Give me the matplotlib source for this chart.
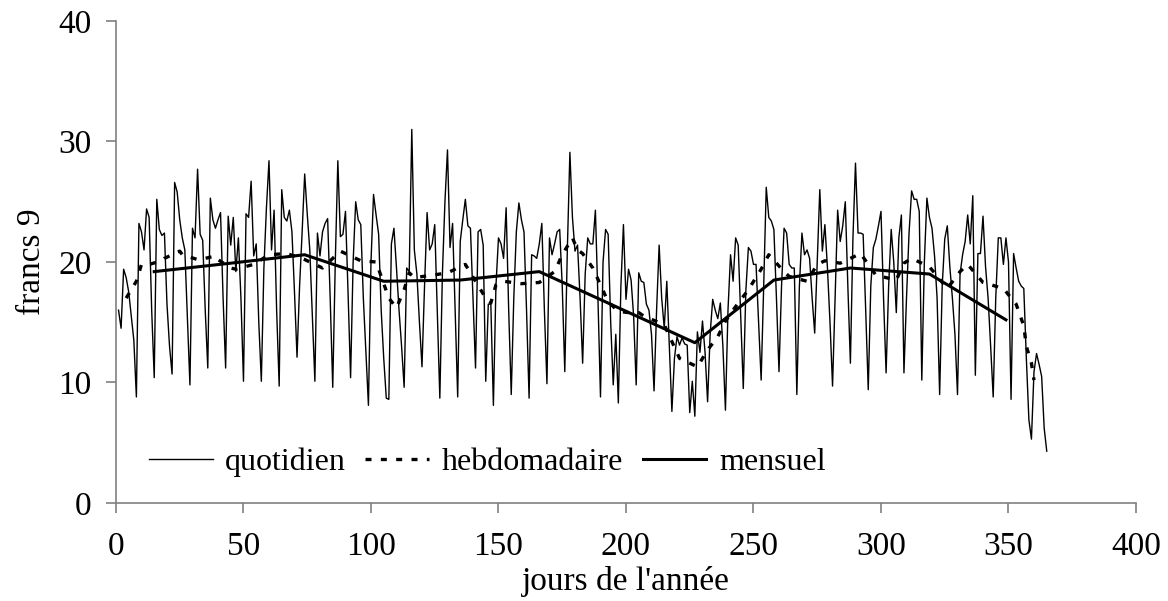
import matplotlib
matplotlib.use("Agg")
import matplotlib.pyplot as plt
import numpy as np

# Daily values, one row per week (days 1 to 365)
dailyValues = [
    16.0, 14.5, 19.4, 18.7, 17.5, 15.5, 13.5,
    8.8, 23.2, 22.5, 21.0, 24.4, 23.7, 16.0,
    10.4, 25.2, 22.7, 22.2, 22.4, 16.5, 13.0,
    10.7, 26.6, 25.8, 23.5, 22.0, 21.0, 15.5,
    9.8, 22.8, 22.0, 27.7, 22.3, 21.8, 16.0,
    11.2, 25.3, 23.5, 22.8, 23.5, 24.1, 17.0,
    11.2, 23.8, 21.4, 23.7, 19.2, 22.0, 17.0,
    10.1, 24.0, 23.7, 26.7, 20.5, 21.5, 15.0,
    10.1, 19.5, 24.5, 28.4, 21.0, 24.3, 16.0,
    9.7, 26.0, 23.7, 23.4, 24.3, 22.5, 17.5,
    12.1, 18.0, 22.5, 27.3, 24.0, 21.0, 15.5,
    10.1, 22.4, 20.5, 22.5, 23.2, 23.6, 17.0,
    9.6, 20.0, 28.4, 22.1, 22.3, 24.2, 17.5,
    10.4, 20.0, 25.0, 23.5, 23.1, 17.0, 12.5,
    8.1, 20.0, 25.6, 23.9, 22.3, 16.0, 12.0,
    8.7, 8.6, 21.5, 22.8, 19.5, 16.0, 13.0,
    9.6, 19.5, 19.2, 31.0, 21.0, 19.0, 15.0,
    11.3, 18.0, 24.1, 21.0, 21.5, 23.1, 16.0,
    8.7, 19.0, 25.0, 29.3, 21.2, 23.2, 16.0,
    8.8, 21.7, 23.5, 25.2, 23.0, 22.8, 17.0,
    11.2, 22.5, 22.7, 21.4, 10.1, 16.5, 16.5,
    8.1, 18.0, 22.0, 21.5, 20.3, 24.5, 16.0,
    9.0, 17.0, 22.5, 24.9, 23.5, 22.5, 16.0,
    8.7, 20.6, 20.5, 20.3, 21.5, 23.2, 16.0,
    9.9, 22.0, 20.6, 21.5, 22.5, 22.7, 18.0,
    10.9, 21.0, 29.1, 23.7, 20.9, 21.4, 17.0,
    11.6, 19.0, 22.0, 21.5, 21.5, 24.3, 17.0,
    8.8, 20.0, 22.7, 22.3, 15.0, 9.8, 14.0,
    8.3, 18.0, 23.1, 16.9, 19.4, 18.5, 15.5,
    9.8, 19.1, 18.4, 18.3, 16.5, 16.0, 14.0,
    9.3, 16.0, 21.4, 17.0, 14.5, 18.4, 13.0,
    7.6, 12.0, 13.8, 13.1, 13.7, 13.2, 13.1,
    7.5, 10.1, 7.2, 14.2, 12.5, 15.1, 12.5,
    8.4, 14.0, 16.9, 16.0, 15.3, 16.6, 13.0,
    7.7, 16.0, 20.6, 18.4, 22.0, 21.4, 15.5,
    9.5, 17.6, 21.2, 20.9, 19.8, 19.8, 15.0,
    10.2, 18.0, 26.2, 23.7, 23.4, 22.7, 17.0,
    10.9, 18.0, 22.8, 22.4, 19.8, 19.5, 19.5,
    9.0, 18.0, 22.4, 20.6, 21.0, 20.3, 17.0,
    14.1, 20.0, 26.0, 20.9, 23.1, 19.5, 15.0,
    9.7, 17.0, 24.3, 21.7, 23.0, 25.0, 18.0,
    11.6, 22.0, 28.2, 22.4, 22.4, 22.3, 16.0,
    9.4, 18.0, 21.2, 21.9, 23.0, 24.2, 17.0,
    10.8, 18.0, 22.7, 20.0, 15.8, 22.0, 23.9,
    10.8, 17.0, 22.4, 25.9, 25.2, 25.2, 24.2,
    10.2, 20.0, 25.3, 23.7, 22.8, 20.5, 17.0,
    9.0, 18.0, 21.9, 23.0, 19.6, 17.0, 14.0,
    9.0, 19.0, 20.6, 21.7, 23.9, 21.5, 25.5,
    10.6, 20.7, 20.7, 23.8, 19.6, 17.0, 13.0,
    8.8, 17.0, 22.0, 22.0, 19.8, 22.0, 20.0,
    8.6, 20.7, 19.5, 18.4, 18.0, 17.8, 12.0,
    6.9, 5.3, 10.9, 12.4, 11.5, 10.5, 6.2,
    4.3,
]
dailyDays = np.arange(1, len(dailyValues) + 1)

# Weekly curve
weeklyDays = [4, 8, 10, 13, 18, 19, 25, 26, 32, 33, 39, 40, 45, 47, 54, 60,
              67, 74, 81, 88, 96, 102, 107, 110, 113, 115, 117, 124, 130, 137,
              141, 145, 147, 149, 152, 159, 166, 172, 175, 179, 181, 183, 187,
              190, 193, 197, 201, 205, 207, 215, 218, 221, 223, 228, 232, 236,
              239, 243, 248, 253, 256, 262, 264, 271, 275, 278, 284, 292, 298,
              306, 309, 312, 319, 326, 331, 334, 340, 348, 353, 356, 357, 359, 360]
weeklyValues = [17.0, 18.4, 19.8, 19.8, 20.1, 20.3, 20.9, 20.6, 20.2, 20.2,
                20.5, 20.2, 19.5, 19.4, 19.8, 20.6, 20.7, 20.2, 19.5, 20.9,
                20.1, 20.0, 17.0, 16.2, 17.7, 19.1, 18.7, 18.9, 19.1, 19.8,
                18.4, 17.0, 16.6, 18.1, 18.4, 18.2, 18.3, 19.2, 20.6, 22.0,
                21.0, 20.7, 19.5, 18.1, 16.7, 15.9, 15.8, 15.8, 15.5, 14.8,
                13.4, 12.0, 11.8, 11.3, 12.7, 13.8, 15.1, 16.3, 17.7, 19.4,
                20.6, 19.2, 18.8, 18.4, 19.8, 20.1, 19.9, 20.7, 18.9, 18.5,
                19.9, 20.3, 19.6, 17.8, 19.2, 19.8, 18.3, 17.8, 16.5, 14.7,
                13.0, 11.6, 10.2]

# Monthly curve
monthlyDays = [15, 45, 74, 105, 135, 166, 196, 227, 258, 288, 319, 349]
monthlyValues = [19.2, 19.9, 20.6, 18.4, 18.5, 19.2, 16.3, 13.3, 18.5, 19.5, 19.0, 15.2]

xTicks = [0, 50, 100, 150, 200, 250, 300, 350, 400]
yTicks = [0, 10, 20, 30, 40]

plt.rcParams['font.family'] = ['Liberation Serif', 'DejaVu Serif']
fontSize = 24
legendSize = 23
spineColor = '#808080'

fig = plt.figure(figsize=(11.68, 6.01), dpi=100)
ax = fig.add_axes([0.0993, 0.1631, 0.8733, 0.802])

ax.plot(dailyDays, dailyValues, color='black', linewidth=1.0, label='quotidien')
ax.plot(weeklyDays, weeklyValues, color='black', linewidth=2.4,
        linestyle=(0, (1.8, 2.8)), label='hebdomadaire')
ax.plot(monthlyDays, monthlyValues, color='black', linewidth=2.2, label='mensuel')

ax.set_xlim(0, 400)
ax.set_ylim(0, 40)
ax.set_xticks(xTicks)
ax.set_yticks(yTicks)

for side in ['top', 'right']:
    ax.spines[side].set_visible(False)
for side in ['left', 'bottom']:
    ax.spines[side].set_color(spineColor)
    ax.spines[side].set_linewidth(1.2)
ax.tick_params(axis='both', direction='out', length=7.5, width=1.2,
               color=spineColor, labelsize=fontSize, labelcolor='black')
ax.tick_params(axis='x', pad=13)
ax.tick_params(axis='y', pad=10)

ax.set_xlabel("jours de l'année", fontsize=fontSize, labelpad=3)
ax.set_ylabel('francs 9', fontsize=fontSize, labelpad=8)

ax.legend(loc='center left', bbox_to_anchor=(0.032, 0.085), ncol=3,
          frameon=False, fontsize=legendSize, handlelength=2.0,
          handletextpad=0.4, columnspacing=0.6, borderpad=0, borderaxespad=0)

fig.savefig('out.png', dpi=100)
